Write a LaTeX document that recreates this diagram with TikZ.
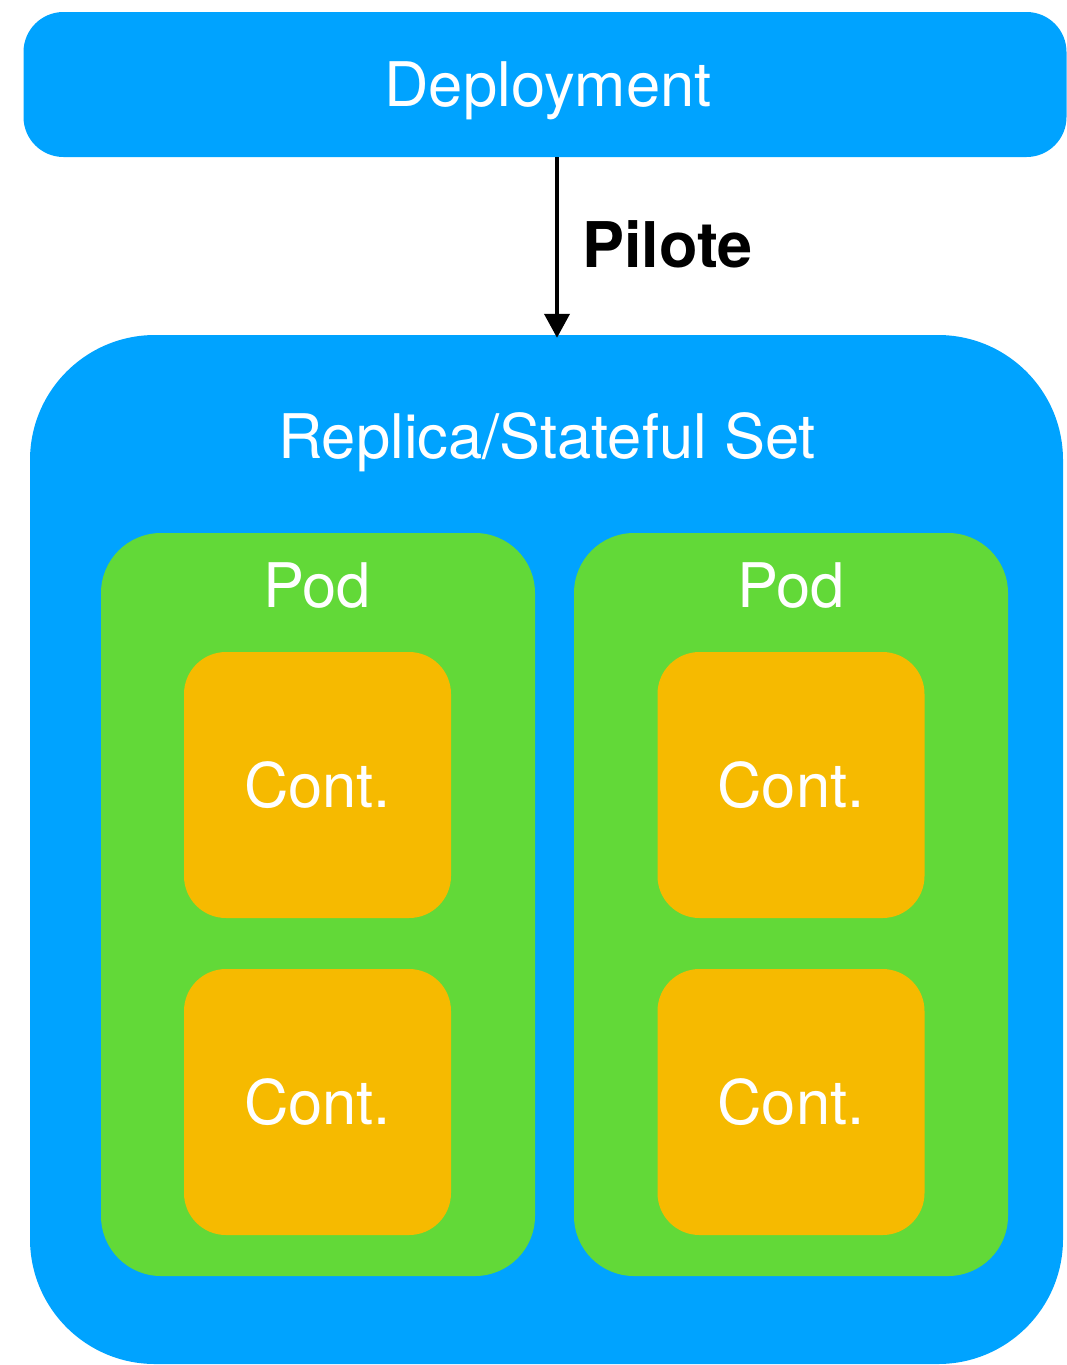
\documentclass[tikz,border=0pt]{standalone}
\usepackage{fontspec}
\setmainfont{TeX Gyre Heros}
\usetikzlibrary{arrows.meta}

\definecolor{deployblue}{RGB}{0,163,255}
\definecolor{podgreen}{RGB}{98,217,56}
\definecolor{contorange}{RGB}{246,186,0}

\tikzset{
  whitetxt/.style={text=white, inner sep=0pt, font=\fontsize{61.5}{72}\selectfont},
  deploybox/.style={fill=deployblue, rounded corners=40pt, inner sep=0pt,
    minimum width=1043pt, minimum height=145pt},
  setbox/.style={fill=deployblue, rounded corners=125pt, inner sep=0pt,
    minimum width=1033pt, minimum height=1029pt},
  podbox/.style={fill=podgreen, rounded corners=60pt, inner sep=0pt,
    minimum width=434pt, minimum height=743pt},
  contbox/.style={fill=contorange, rounded corners=42pt, inner sep=0pt,
    minimum width=267pt, minimum height=266pt, text=white,
    font=\fontsize{61.5}{72}\selectfont},
  pilotearrow/.style={line width=4pt, -{Triangle[width=25pt,length=24pt]}}
}

\begin{document}
\begin{tikzpicture}[x=1pt,y=-1pt]
  \useasboundingbox (0,0) rectangle (1067,1365);

  % deployment
  \node[deploybox] (deploy) at (545,84.5) {};
  \node[whitetxt, anchor=base] (deploylbl) at (548,106) {Deployment};

  % replica / stateful set
  \node[setbox] (set) at (546.5,849.5) {};
  \node[whitetxt, anchor=base] (setlbl) at (547,458) {Replica/Stateful Set};

  % pilote arrow
  \coordinate (arrowx) at (557,0);
  \draw[pilotearrow] (deploy.south -| arrowx) -- ([yshift=-3pt]set.north -| arrowx);
  \node[anchor=base west, inner sep=0pt, font=\bfseries\fontsize{63}{72}\selectfont]
    (pilote) at (582,267) {Pilote};

  % pods
  \node[podbox] (podA) at (318,904.5) {};
  \node[podbox] (podB) at (791,904.5) {};
  \node[whitetxt, anchor=base] (podAlbl) at (317,607) {Pod};
  \node[whitetxt, anchor=base] (podBlbl) at (791,607) {Pod};

  % containers
  \node[contbox] (contA1) at (317.5,785) {Cont.};
  \node[contbox] (contA2) at (317.5,1102) {Cont.};
  \node[contbox] (contB1) at (791,785) {Cont.};
  \node[contbox] (contB2) at (791,1102) {Cont.};
\end{tikzpicture}
\end{document}
